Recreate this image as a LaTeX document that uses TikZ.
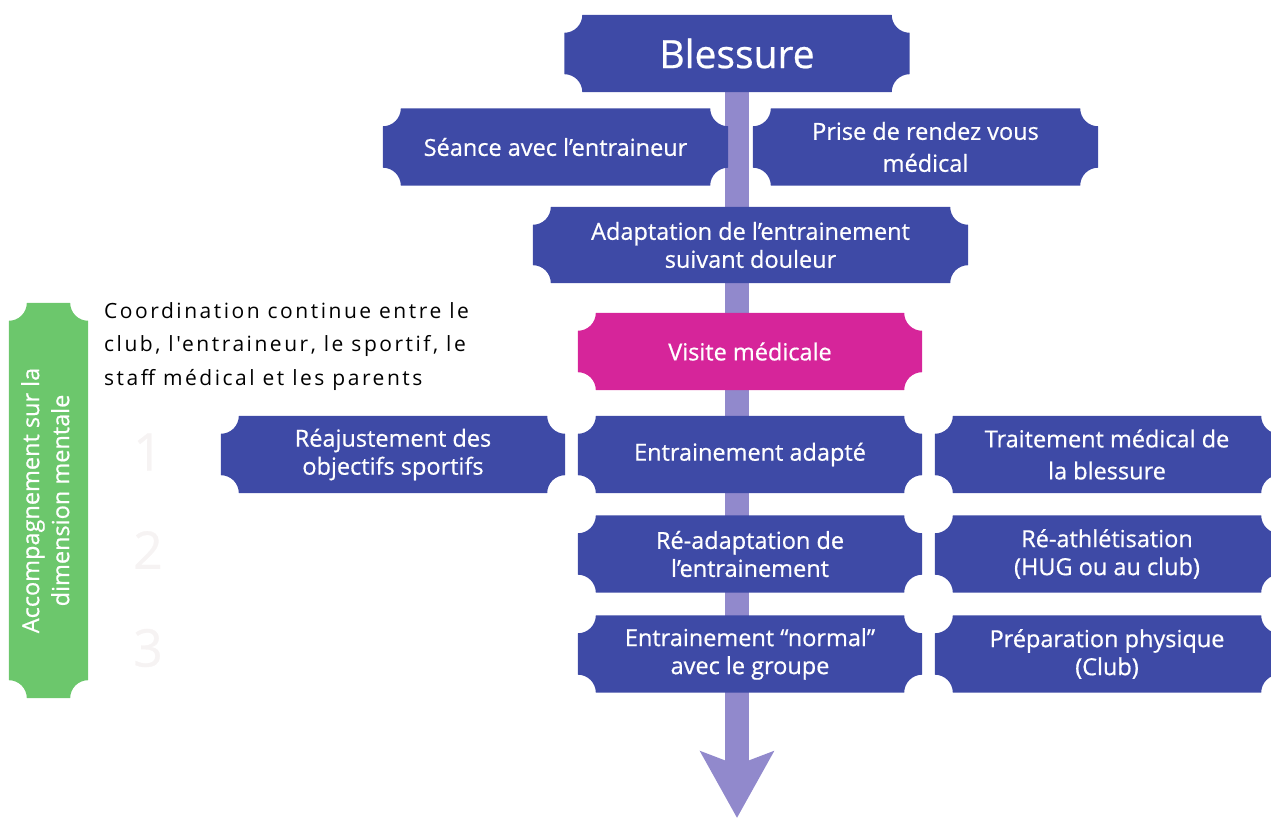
\documentclass[tikz,border=0pt]{standalone}
\usepackage{fontspec}
\setmainfont{Open Sans}
\newfontfamily\boxfont{Open Sans}[FakeBold=0.6,Ligatures=TeX]
\newfontfamily\notefont{Open Sans}[LetterSpace=12]
\usepackage{graphicx}
\usetikzlibrary{arrows.meta,calc}
\definecolor{boxblue}{RGB}{62,74,166}
\definecolor{boxpink}{RGB}{214,37,154}
\definecolor{boxgreen}{RGB}{108,199,108}
\definecolor{flowviolet}{RGB}{145,137,204}
\definecolor{ghostgrey}{RGB}{246,243,243}
\pgfdeclarelayer{flowlayer}
\pgfdeclarelayer{boxlayer}
\pgfsetlayers{flowlayer,boxlayer,main}

\begin{document}
\begin{tikzpicture}[x=1pt,y=1pt]
\tikzset{stepbox/.style=
            {text=white,align=center,inner sep=0pt,minimum width=344pt,minimum height=77pt,
             font=\boxfont\fontsize{23.5}{28}\selectfont},
         wide lines/.style=
            {font=\boxfont\fontsize{23.5}{32}\selectfont},
         flow/.style=
            {line width=24pt,draw=flowviolet,-{Stealth[length=66pt,width=72pt,inset=13pt]}},
         ghost/.style=
            {text=ghostgrey,font=\boxfont\fontsize{52}{52}\selectfont}}
\clip (0,0) rectangle (1271,818);
\node[stepbox,minimum width=345pt,font=\boxfont\fontsize{39}{44}\selectfont] (blessure) at (737,764.5) {Blessure};
\node[stepbox,minimum width=345pt] (seance) at (555.5,671) {Séance avec l’entraineur};
\node[stepbox,wide lines,minimum width=345pt] (prise) at (925.5,671) {Prise de rendez vous\\médical};
\node[stepbox,minimum width=435pt,minimum height=76pt] (adapt) at (750.5,573) {Adaptation de l’entrainement\\suivant douleur};
\node[stepbox] (visite) at (750,466.5) {Visite médicale};
\node[stepbox] (reajust) at (393,363.5) {Réajustement des\\objectifs sportifs};
\node[stepbox] (adapte) at (750,363.5) {Entrainement adapté};
\node[stepbox,wide lines] (traitement) at (1107,363.5) {Traitement médical de\\la blessure};
\node[stepbox] (readapt) at (750,264) {Ré-adaptation de\\l’entrainement};
\node[stepbox] (reathl) at (1107,264) {Ré-athlétisation\\(HUG ou au club)};
\node[stepbox] (normal) at (750,164) {Entrainement “normal”\\avec le groupe};
\node[stepbox] (prepa) at (1107,164) {Préparation physique\\(Club)};
\node[stepbox,minimum width=79pt,minimum height=395pt] (mental) at (48.5,317.5)
    {\rotatebox{90}{\begin{tabular}{@{}c@{}}Accompagnement sur la\\[2pt]dimension mentale\end{tabular}}};
\node[anchor=north west,inner sep=0pt,align=left,font=\notefont\fontsize{21}{33.5}\selectfont] (coord) at (104,516)
    {Coordination continue entre le\\club, l'entraineur, le sportif, le\\staff médical et les parents};
\node[ghost] (un) at (148,366) {1};
\node[ghost] (deux) at (148,268) {2};
\node[ghost] (trois) at (148,170) {3};
\coordinate (fin) at (737,0);
\begin{pgfonlayer}{boxlayer}
\foreach \n/\c in {blessure/boxblue,seance/boxblue,prise/boxblue,adapt/boxblue,visite/boxpink,
                   reajust/boxblue,adapte/boxblue,traitement/boxblue,readapt/boxblue,reathl/boxblue,
                   normal/boxblue,prepa/boxblue,mental/boxgreen}
  \fill[\c] ($(\n.north west)+(18,0)$) -- ($(\n.north east)+(-18,0)$) arc[start angle=180,end angle=270,radius=18]
     -- ($(\n.south east)+(0,18)$) arc[start angle=90,end angle=180,radius=18]
     -- ($(\n.south west)+(18,0)$) arc[start angle=0,end angle=90,radius=18]
     -- ($(\n.north west)+(0,-18)$) arc[start angle=270,end angle=360,radius=18] -- cycle;
\end{pgfonlayer}
\begin{pgfonlayer}{flowlayer}
\draw[flow] (blessure.center) -- (fin);
\end{pgfonlayer}
\end{tikzpicture}
\end{document}
